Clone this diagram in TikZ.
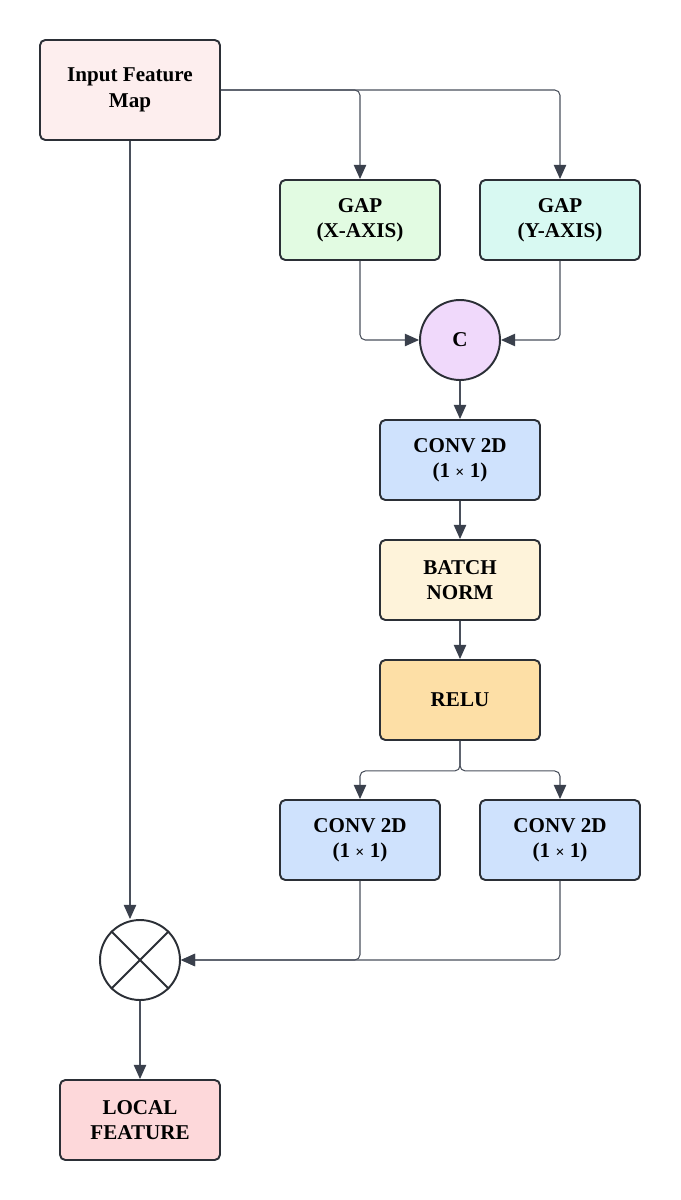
\documentclass[tikz,border=0pt]{standalone}
\usepackage{fontspec}
\setmainfont{Liberation Serif}
\usetikzlibrary{arrows.meta}
\definecolor{cin}{HTML}{FDEEEE}
\definecolor{cgx}{HTML}{E2FBE2}
\definecolor{cgy}{HTML}{D8F9F2}
\definecolor{cc}{HTML}{F0D9FB}
\definecolor{cconv}{HTML}{CFE2FD}
\definecolor{cbn}{HTML}{FEF3DA}
\definecolor{crelu}{HTML}{FDDFA6}
\definecolor{clocal}{HTML}{FDD8DA}
\definecolor{cborder}{HTML}{2B2F36}
\definecolor{cline}{HTML}{4A505C}
\definecolor{carrow}{HTML}{3A404C}
\tikzset{
  box/.style={draw=cborder, line width=1.1pt, rounded corners=3pt, align=center,
    font=\bfseries\fontsize{12}{14.5}\selectfont, inner sep=2pt,
    minimum width=3.2cm, minimum height=1.6cm},
  wide/.style={minimum width=3.6cm, minimum height=2cm},
  op/.style={draw=cborder, line width=1.1pt, circle, minimum size=1.6cm, inner sep=0pt,
    font=\bfseries\fontsize{12}{14.5}\selectfont},
  conn/.style={draw=cline, line width=0.6pt, rounded corners=3pt,
    -{Triangle[length=8pt,width=7pt,color=carrow]}},
}
\begin{document}
\begin{tikzpicture}[x=0.02cm,y=-0.02cm]
\useasboundingbox (0,0) rectangle (680,1200);
\node[box,wide,fill=cin] (in) at (130,90) {Input Feature\\Map};
\node[box,fill=cgx] (gx) at (360,220) {GAP\\(X-AXIS)};
\node[box,fill=cgy] (gy) at (560,220) {GAP\\(Y-AXIS)};
\node[op,fill=cc] (c) at (460,340) {C};
\node[box,fill=cconv] (c1) at (460,460) {CONV 2D\\(1 {\small ×} 1)};
\node[box,fill=cbn] (bn) at (460,580) {BATCH\\NORM};
\node[box,fill=crelu] (relu) at (460,700) {RELU};
\node[box,fill=cconv] (c2) at (360,840) {CONV 2D\\(1 {\small ×} 1)};
\node[box,fill=cconv] (c3) at (560,840) {CONV 2D\\(1 {\small ×} 1)};
\node[op,fill=white] (m) at (140,960) {};
\draw[draw=cborder, line width=1.1pt] (m.north west) -- (m.south east) (m.north east) -- (m.south west);
\node[box,fill=clocal] (lf) at (140,1120) {LOCAL\\FEATURE};

\draw[conn] (in.east) -| (gx.north);
\draw[conn] (in.east) -| (gy.north);
\draw[conn] (gx.south) |- (c.west);
\draw[conn] (gy.south) |- (c.east);
\draw[conn] (c.south) -- (c1.north);
\draw[conn] (c1.south) -- (bn.north);
\draw[conn] (bn.south) -- (relu.north);
\draw[conn] (relu.south) -- ++(0,30) -| (c2.north);
\draw[conn] (relu.south) -- ++(0,30) -| (c3.north);
\draw[conn] (c2.south) |- (m.east);
\draw[conn] (c3.south) |- (m.east);
\draw[conn] (in.south) -- (in.south |- m.north);
\draw[conn] (m.south) -- (lf.north);
\end{tikzpicture}
\end{document}
